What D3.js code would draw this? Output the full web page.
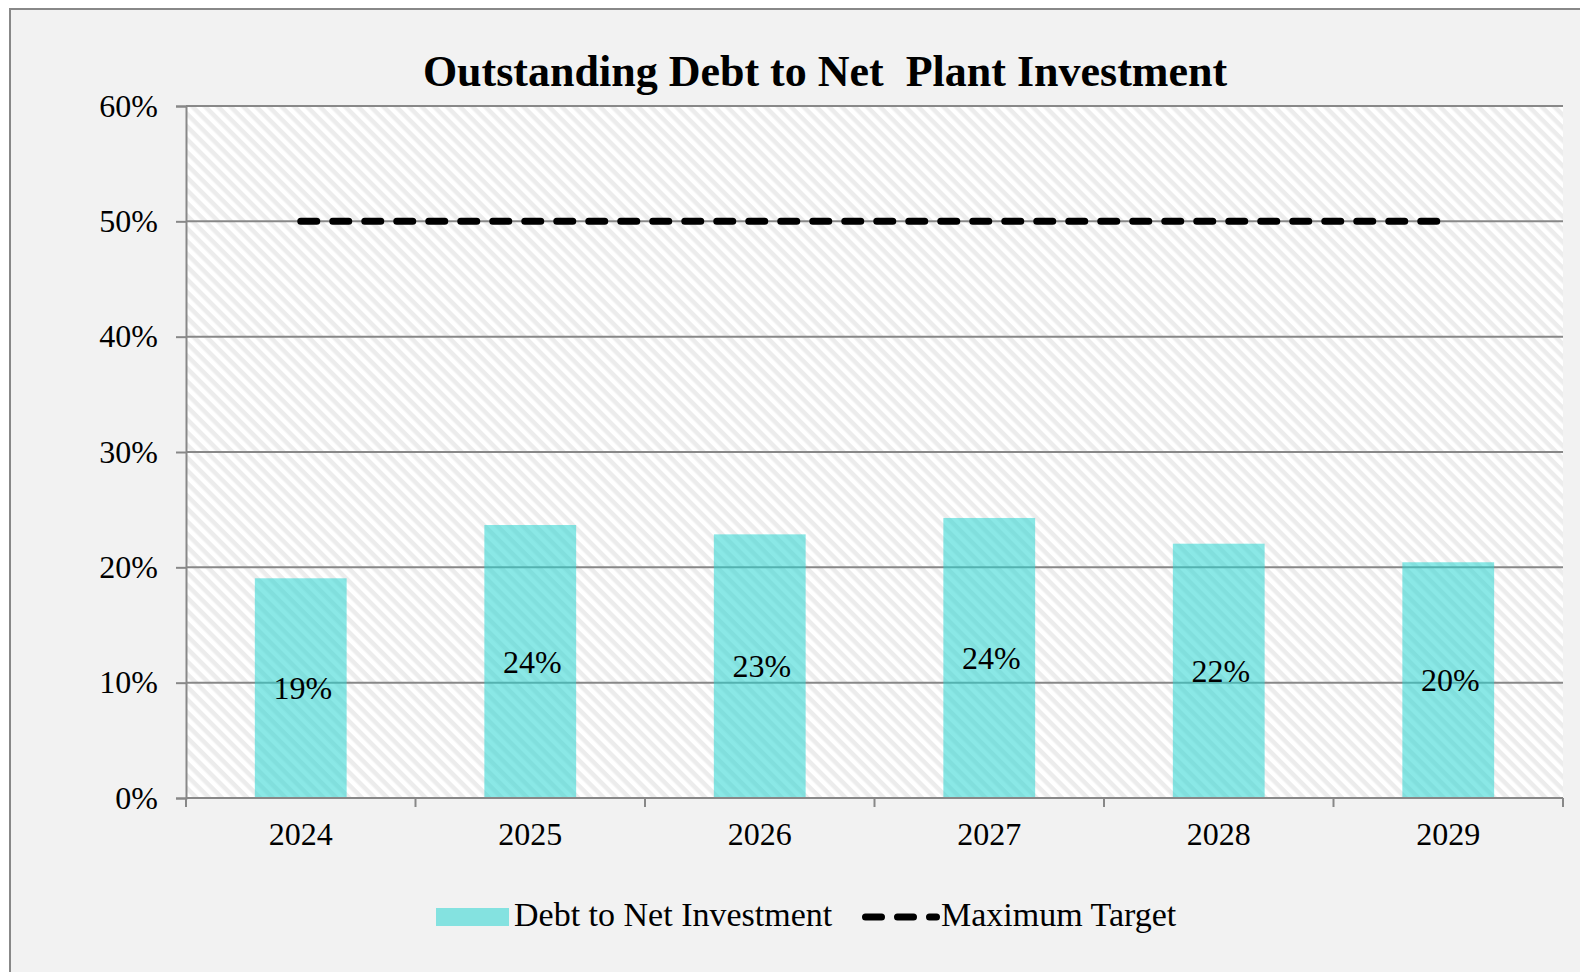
<!DOCTYPE html>
<html>
<head>
<meta charset="utf-8">
<script src="https://cdn.jsdelivr.net/npm/d3@7"></script>
<style>
  body { margin: 0; background: #ffffff; }
  text { font-family: "Liberation Serif", "Times New Roman", serif; }
</style>
</head>
<body>
<svg id="chart" width="1580" height="972"></svg>
<script>
// data
const years = ["2024", "2025", "2026", "2027", "2028", "2029"];
const debtToNet = [0.1905, 0.2367, 0.2286, 0.2428, 0.2205, 0.2044];
const maxTarget = [0.5, 0.5, 0.5, 0.5, 0.5, 0.5];
const yTicks = [0, 0.1, 0.2, 0.3, 0.4, 0.5, 0.6];
const seriesNames = ["Debt to Net Investment", "Maximum Target"];

const svg = d3.select("#chart");
const gridColor = "#888888";
const barColor = "rgb(42,213,210)";

// outer chart box
svg.append("rect")
  .attr("x", 10).attr("y", 9)
  .attr("width", 1620).attr("height", 1020)
  .attr("fill", "#f2f2f2")
  .attr("stroke", gridColor)
  .attr("stroke-width", 2);

// diagonal hatch for the plot area ( \ direction )
const defs = svg.append("defs");
const pat = defs.append("pattern")
  .attr("id", "hatch")
  .attr("patternUnits", "userSpaceOnUse")
  .attr("width", 9).attr("height", 9)
  .attr("patternTransform", "rotate(45)");
pat.append("rect").attr("width", 9).attr("height", 9).attr("fill", "#ffffff");
pat.append("rect").attr("width", 9).attr("height", 4.5).attr("fill", "#ececec");

const plotLeft = 186, plotRight = 1563, plotTop = 106, plotBottom = 798;

const x = d3.scaleBand().domain(years).range([plotLeft, plotRight]).padding(0);
const y = d3.scaleLinear().domain([0, 0.6]).range([plotBottom, plotTop]);

svg.append("rect")
  .attr("x", plotLeft).attr("y", plotTop)
  .attr("width", plotRight - plotLeft).attr("height", plotBottom - plotTop)
  .attr("fill", "url(#hatch)");

// gridlines
svg.append("g")
  .selectAll("line")
  .data(yTicks.filter(d => d > 0))
  .join("line")
  .attr("x1", plotLeft).attr("x2", plotRight)
  .attr("y1", d => y(d)).attr("y2", d => y(d))
  .attr("stroke", gridColor)
  .attr("stroke-width", 2);

// title
svg.append("text")
  .attr("x", 825).attr("y", 86)
  .attr("text-anchor", "middle")
  .attr("font-size", 44)
  .attr("font-weight", "bold")
  .attr("xml:space", "preserve")
  .style("white-space", "pre")
  .text("Outstanding Debt to Net  Plant Investment");

// bars
const bw = x.bandwidth() * 0.4;
svg.append("g")
  .selectAll("rect")
  .data(years)
  .join("rect")
  .attr("x", d => x(d) + x.bandwidth() / 2 - bw / 2)
  .attr("y", (d, i) => y(debtToNet[i]))
  .attr("width", bw)
  .attr("height", (d, i) => plotBottom - y(debtToNet[i]))
  .attr("fill", barColor)
  .attr("fill-opacity", 0.55);

// labels in the middle of the bars
svg.append("g")
  .selectAll("text")
  .data(years)
  .join("text")
  .attr("x", d => x(d) + x.bandwidth() / 2 + 2)
  .attr("y", (d, i) => (y(debtToNet[i]) + plotBottom) / 2)
  .attr("dy", "0.35em")
  .attr("text-anchor", "middle")
  .attr("font-size", 32)
  .text((d, i) => d3.format(".0%")(debtToNet[i]));

// maximum target line
const line = d3.line()
  .x((d, i) => x(years[i]) + x.bandwidth() / 2)
  .y(d => y(d));
svg.append("path")
  .attr("d", line(maxTarget))
  .attr("fill", "none")
  .attr("stroke", "#000")
  .attr("stroke-width", 7)
  .attr("stroke-linecap", "round")
  .attr("stroke-dasharray", "16,16");

// y axis
const yAxis = svg.append("g")
  .attr("transform", `translate(${plotLeft},0)`)
  .call(d3.axisLeft(y).tickValues(yTicks).tickFormat(d3.format(".0%")).tickSize(10).tickPadding(18));
yAxis.select(".domain").attr("stroke", gridColor).attr("stroke-width", 2);
yAxis.selectAll(".tick line").attr("stroke", gridColor).attr("stroke-width", 2);
yAxis.selectAll(".tick text")
  .attr("font-family", "Liberation Serif")
  .attr("font-size", 32)
  .attr("fill", "#000");

// x axis: labels at centres, ticks at category boundaries
const xAxis = svg.append("g")
  .attr("transform", `translate(0,${plotBottom})`)
  .call(d3.axisBottom(x).tickSize(0).tickPadding(24));
xAxis.select(".domain").remove();
xAxis.selectAll(".tick text")
  .attr("font-family", "Liberation Serif")
  .attr("font-size", 32)
  .attr("fill", "#000");

const bounds = years.map(d => x(d)).concat([x.range()[1]]);
svg.append("line")
  .attr("x1", plotLeft).attr("x2", plotRight)
  .attr("y1", plotBottom).attr("y2", plotBottom)
  .attr("stroke", gridColor).attr("stroke-width", 2);
svg.append("g")
  .selectAll("line")
  .data(bounds)
  .join("line")
  .attr("x1", d => d).attr("x2", d => d)
  .attr("y1", plotBottom).attr("y2", plotBottom + 9)
  .attr("stroke", gridColor).attr("stroke-width", 2);

// legend
const lg = svg.append("g");
lg.append("rect")
  .attr("x", 436).attr("y", 908)
  .attr("width", 73).attr("height", 18)
  .attr("fill", barColor).attr("fill-opacity", 0.55);
lg.append("text")
  .attr("x", 514).attr("y", 926)
  .attr("font-size", 34)
  .text(seriesNames[0]);
lg.append("line")
  .attr("x1", 865.5).attr("x2", 936.5)
  .attr("y1", 917).attr("y2", 917)
  .attr("stroke", "#000")
  .attr("stroke-width", 7)
  .attr("stroke-linecap", "round")
  .attr("stroke-dasharray", "16,16");
lg.append("text")
  .attr("x", 941).attr("y", 926)
  .attr("font-size", 34)
  .text(seriesNames[1]);
</script>
</body>
</html>
